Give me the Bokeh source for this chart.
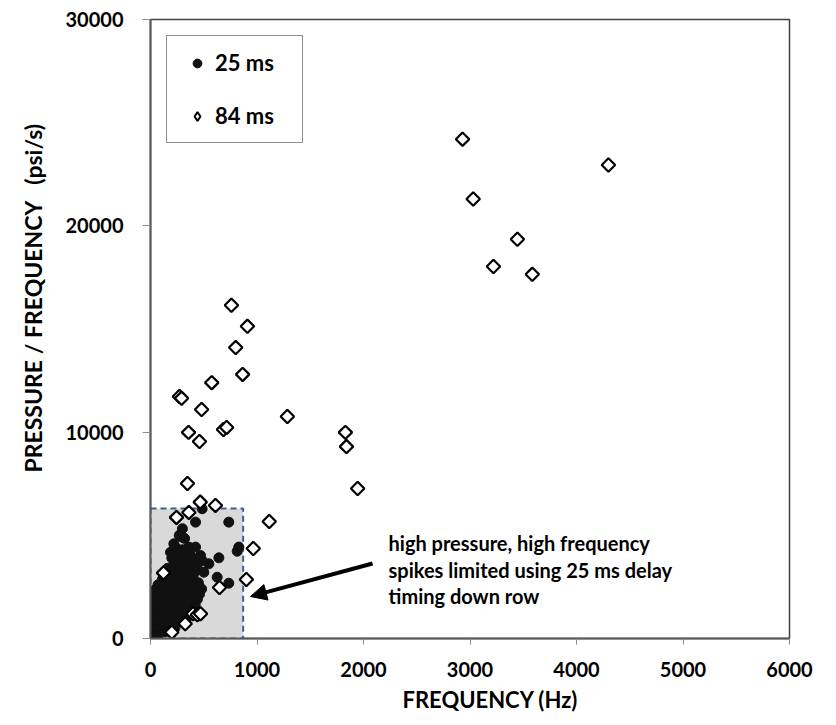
import math
from bokeh.plotting import figure
from bokeh.models import (BoxAnnotation, Arrow, NormalHead, Label, Legend,
                          LegendItem, Range1d, FixedTicker, Title)
from bokeh.embed import file_html
from bokeh.resources import INLINE

# ---------------- data ----------------
series_labels = ["25 ms", "84 ms"]
x_title = "FREQUENCY (Hz)"
y_title = "PRESSURE / FREQUENCY \u00a0 (psi/s)"
x_ticks = [0, 1000, 2000, 3000, 4000, 5000, 6000]
y_ticks = [0, 10000, 20000, 30000]

# 25 ms delay (filled circles)
freq_25 = [485, 423, 735, 300, 297, 829, 814, 642, 548, 501, 626, 735, 423, 470,
           485, 438, 360, 376, 282, 219, 344, 250, 188, 219,
           270, 320, 240, 300, 350, 200, 270, 320, 400, 160, 230, 300, 370, 420,
           130, 190, 260, 330, 400,
           110, 180, 250, 320, 390, 450,
           70, 150, 220, 300, 370, 440, 480,
           40, 110, 190, 260, 330, 400, 460,
           30, 90, 160, 230, 300, 370, 440,
           20, 70, 140, 210, 280, 350, 420,
           15, 60, 120, 190, 250, 320, 390,
           10, 50, 100, 170, 230, 290, 350,
           10, 45, 90, 150, 210, 270,
           8, 40, 80, 130, 190, 230,
           5, 35, 70, 110, 140,
           10, 40, 70, 30]
pps_25 = [6290, 5640, 5640, 5320, 4910, 4430, 4230, 3910, 3620, 3210, 2970, 2680, 4430, 4020,
          3780, 3540, 4430, 4020, 3780, 3620, 3620, 4180, 4180, 4590,
          5000, 4850, 4400, 4300, 4150, 3900, 3950, 3800, 3750, 3400, 3350, 3450, 3300, 3250,
          3050, 3100, 3150, 3100, 3000,
          2850, 2900, 2820, 2880, 2790, 2700,
          2600, 2650, 2560, 2620, 2540, 2480, 2400,
          2350, 2380, 2300, 2340, 2260, 2200, 2150,
          2050, 2100, 2010, 2070, 1980, 1950, 1900,
          1780, 1820, 1740, 1790, 1700, 1660, 1620,
          1500, 1540, 1470, 1510, 1430, 1400, 1350,
          1220, 1260, 1180, 1230, 1150, 1100, 1050,
          950, 980, 900, 940, 860, 820,
          680, 700, 640, 660, 580, 520,
          420, 440, 380, 400, 330,
          180, 150, 120, 40]

# 84 ms delay (open diamonds)
freq_84 = [2930, 4300, 3030, 3445, 3220, 3585, 760, 910, 800, 865, 575, 272, 292,
           480, 1285, 685, 715, 357, 460, 1830, 1840, 1945, 347, 467, 610, 1115,
           360, 244, 965, 900, 648, 122, 400, 440, 470, 326, 200]
pps_84 = [24200, 22950, 21300, 19350, 18030, 17650, 16150, 15130, 14100, 12800, 12400, 11730, 11640,
          11100, 10760, 10130, 10230, 9990, 9550, 9990, 9300, 7270, 7510, 6610, 6450, 5670,
          6110, 5870, 4360, 2860, 2470, 3180, 1200, 1150, 1200, 712, 305]

# ---------------- figure ----------------
FONT = "Lato"

p = figure(width=836, height=724, output_backend="svg", toolbar_location=None,
           x_range=Range1d(0, 6000), y_range=Range1d(0, 30000),
           min_border_left=150, min_border_top=19, min_border_right=47,
           min_border_bottom=86)
p.background_fill_color = "white"
p.border_fill_color = "white"
p.outline_line_color = "#404040"
p.outline_line_width = 1.5
p.xgrid.visible = False
p.ygrid.visible = False

# highlighted region
box = BoxAnnotation(left=0, right=870, bottom=0, top=6300, level="underlay",
                    fill_color="#d9d9d9", fill_alpha=1.0,
                    line_color="#3c5f90", line_alpha=1.0, line_width=2,
                    line_dash="6 4")
p.add_layout(box)

r25 = p.scatter(freq_25, pps_25, marker="circle", size=10,
                fill_color="#111111", line_color="#111111")
# legend swatch for the 84 ms series: drawn beneath the real markers (hidden by them)
r84_key = p.scatter(freq_84, pps_84, marker="diamond", size=11,
                    fill_color="white", line_color="black", line_width=2)
r84 = p.scatter(freq_84, pps_84, marker="square", angle=math.pi / 4, size=9.5,
                fill_color="white", line_color="black", line_width=2.2)

# axes
for ax in (p.xaxis[0], p.yaxis[0]):
    ax.axis_line_color = "#595959"
    ax.axis_line_width = 2
    ax.major_tick_line_color = "#8c8c8c"
    ax.major_tick_in = 0
    ax.minor_tick_line_color = None
    ax.major_label_text_font = FONT
    ax.major_label_text_font_style = "bold"
    ax.major_label_text_font_size = "20px"
    ax.major_label_text_color = "black"

p.xaxis.ticker = FixedTicker(ticks=x_ticks)
p.yaxis.ticker = FixedTicker(ticks=y_ticks)
p.xaxis.major_label_overrides = {t: str(t) for t in x_ticks}
p.yaxis.major_label_overrides = {t: str(t) for t in y_ticks}
p.xaxis.major_tick_out = 6
p.yaxis.major_tick_out = 8
p.xaxis.major_label_standoff = 17
p.yaxis.major_label_standoff = 19

# axis titles (side titles, slightly off-centre as in the original)
p.add_layout(Title(text=x_title, align="left", offset=252, vertical_align="top",
                   standoff=12, text_font=FONT, text_font_style="bold",
                   text_font_size="22px", text_color="black"), "below")
p.add_layout(Title(text=y_title, align="left", offset=166, vertical_align="middle",
                   standoff=30, text_font=FONT, text_font_style="bold",
                   text_font_size="23px", text_color="black"), "left")

# legend
legend = Legend(items=[LegendItem(label=series_labels[0], renderers=[r25]),
                       LegendItem(label=series_labels[1], renderers=[r84_key])],
                location="top_left", margin=16, padding=13, spacing=26,
                glyph_width=34, glyph_height=22, label_height=24,
                label_standoff=1, label_width=74,
                label_text_font=FONT, label_text_font_style="bold",
                label_text_font_size="22px", label_text_color="black",
                border_line_color="#222222", border_line_width=1,
                background_fill_color="white", background_fill_alpha=1.0)
p.add_layout(legend)

# annotation arrow and note
arrow = Arrow(end=NormalHead(size=16, fill_color="black", line_color="black"),
              x_start=2085, y_start=3635, x_end=939, y_end=2036,
              line_width=4, line_color="black")
p.add_layout(arrow)

note_lines = ["high pressure, high frequency",
              "spikes limited using 25 ms delay",
              "timing  down row"]
note_y = [4605, 3300, 2080]
for txt, yy in zip(note_lines, note_y):
    p.add_layout(Label(x=2235, y=yy, text=txt, text_font=FONT,
                       text_font_style="bold", text_font_size="20px",
                       text_color="black", text_baseline="middle"))

open("out.html", "w").write(file_html(p, INLINE))
